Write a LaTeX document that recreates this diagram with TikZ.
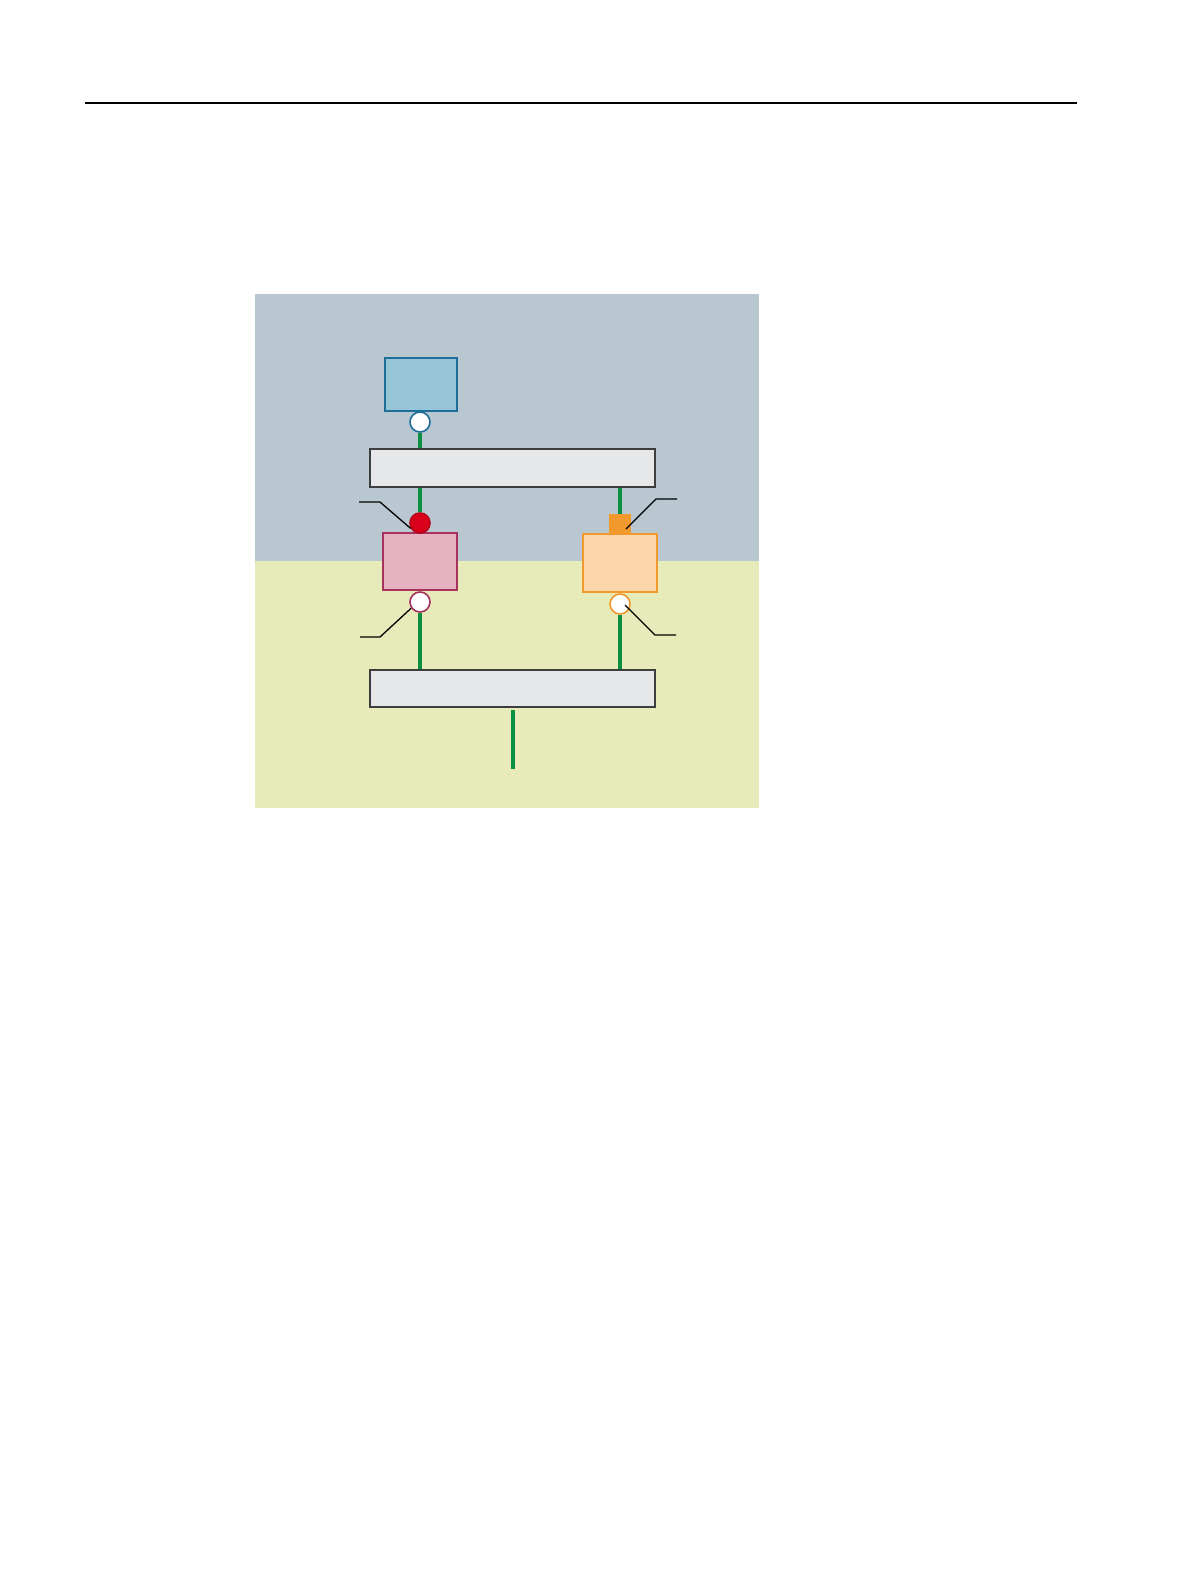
\documentclass[tikz,border=0pt]{standalone}
\usetikzlibrary{calc}
\definecolor{panelTop}{HTML}{B9C7D0}
\definecolor{panelBot}{HTML}{E7EAB9}
\definecolor{linkGreen}{HTML}{0A9040}
\definecolor{blueFill}{HTML}{97C5D8}
\definecolor{blueLine}{HTML}{1F6E9A}
\definecolor{barFill}{HTML}{E6E7E8}
\definecolor{barLine}{HTML}{3D3D3D}
\definecolor{redDot}{HTML}{D9001B}
\definecolor{redLine}{HTML}{B8001A}
\definecolor{pinkFill}{HTML}{E6B1C1}
\definecolor{pinkLine}{HTML}{A8325E}
\definecolor{orangeMain}{HTML}{F2992E}
\definecolor{orangeFill}{HTML}{FDD6AC}
\tikzset{
  boxshape/.style={rectangle, inner sep=0pt, line width=1.6pt},
  portdot/.style={circle, inner sep=0pt, minimum size=20pt, line width=1.6pt},
  greenlink/.style={draw=linkGreen, line width=3.5pt},
  callout/.style={draw=black, line width=1.3pt},
}
\begin{document}
\begin{tikzpicture}[x=1pt,y=-1pt]
\useasboundingbox (0,0) rectangle (1191,1587);
\fill[white] (0,0) rectangle (1191,1587);
% header rule
\coordinate (ruleL) at (85,103);
\coordinate (ruleR) at (1077,103);
\draw[line width=1.4pt] (ruleL) -- (ruleR);
% panel
\fill[panelTop] (255,294) rectangle (759,561);
\fill[panelBot] (255,561) rectangle (759,808);
% nodes
\node[boxshape, draw=blueLine, fill=blueFill, minimum width=72pt, minimum height=53pt] (blue) at (421,384.5) {};
\node[portdot, draw=blueLine, fill=white] (bluePort) at (420,422) {};
\node[boxshape, draw=barLine, fill=barFill, minimum width=285pt, minimum height=38pt] (topbar) at (512.5,468) {};
\node[boxshape, draw=pinkLine, fill=pinkFill, minimum width=74pt, minimum height=57pt] (pink) at (420,561.5) {};
\node[portdot, draw=redLine, fill=redDot] (redPort) at (420,523) {};
\node[portdot, draw=pinkLine, fill=white] (pinkPort) at (420,602) {};
\node[boxshape, draw=orangeMain, fill=orangeFill, minimum width=74pt, minimum height=58pt] (orange) at (620,563) {};
\node[rectangle, inner sep=0pt, fill=orangeMain, minimum width=22pt, minimum height=20pt] (orangeSq) at (620,524) {};
\node[portdot, draw=orangeMain, fill=white] (orangePort) at (620,604) {};
\node[boxshape, draw=barLine, fill=barFill, minimum width=285pt, minimum height=37pt] (botbar) at (512.5,688.5) {};
\coordinate (downEnd) at (513,769);
% green links
\draw[greenlink] (bluePort.south) -- (bluePort.south |- topbar.north);
\draw[greenlink] (redPort.north |- topbar.south) -- (redPort.north);
\draw[greenlink] (orangeSq.north |- topbar.south) -- (orangeSq.north);
\draw[greenlink] (pinkPort.south) -- (pinkPort.south |- botbar.north);
\draw[greenlink] (orangePort.south) -- (orangePort.south |- botbar.north);
\draw[greenlink] ($(botbar.south)+(0.5,2)$) -- (downEnd);
% callouts
\coordinate (cA0) at (359,502); \coordinate (cA1) at (380,502);
\draw[callout] (cA0) -- (cA1) -- (redPort.210);
\coordinate (cB0) at (677,499); \coordinate (cB1) at (656,499);
\coordinate (cBend) at (626,529);
\draw[callout] (cB0) -- (cB1) -- (cBend);
\coordinate (cC0) at (360,637); \coordinate (cC1) at (380,637);
\draw[callout] (cC0) -- (cC1) -- (pinkPort.215);
\coordinate (cD0) at (676,635); \coordinate (cD1) at (655,635);
\coordinate (cDend) at (625,605);
\draw[callout] (cD0) -- (cD1) -- (cDend);
\end{tikzpicture}
\end{document}
